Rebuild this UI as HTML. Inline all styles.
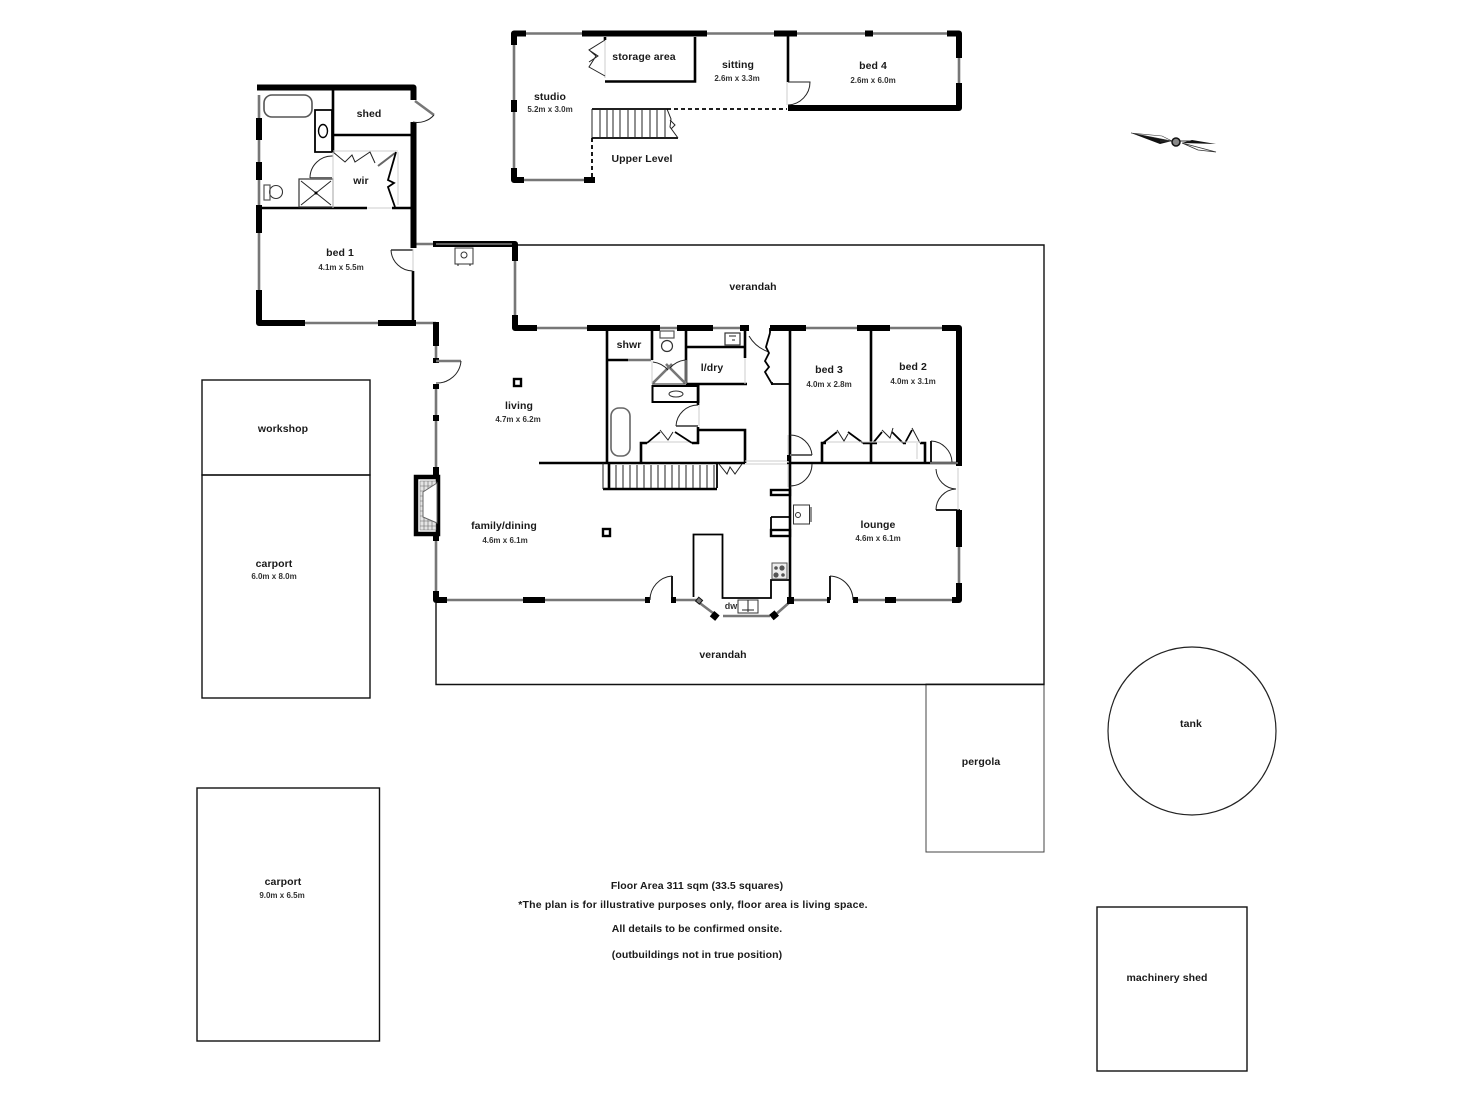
<!DOCTYPE html>
<html><head><meta charset="utf-8"><style>
html,body{margin:0;padding:0;background:#fff}
svg{display:block;filter:blur(.35px)}
text{font-family:"Liberation Sans",sans-serif;font-weight:bold;fill:#1a1a1a;text-anchor:middle}
.l{font-size:10.5px;letter-spacing:.08px}
.s{font-size:8px;fill:#333}
.n{font-size:10.5px;letter-spacing:.07px}
.w6{stroke:#000;stroke-width:6;fill:none;stroke-linejoin:round}
.w3{stroke:#000;stroke-width:2.6;fill:none}
.w2{stroke:#000;stroke-width:1.8;fill:none}
.g{stroke:#777;stroke-width:2.6;fill:none}
.t{stroke:#222;stroke-width:1;fill:none}
.o{stroke:#111;stroke-width:1.4;fill:none}
.lt{stroke:#ccc;stroke-width:1;fill:none}
.gp{stroke:#666;stroke-width:2;fill:none}
</style></head><body>
<svg width="1472" height="1104" viewBox="0 0 1472 1104" xmlns="http://www.w3.org/2000/svg">
<rect width="1472" height="1104" fill="#fff"/>

<!-- outbuildings -->
<rect class="o" x="202" y="380" width="168" height="95"/>
<rect class="o" x="202" y="475" width="168" height="223"/>
<rect class="o" x="197" y="788" width="182.500" height="253"/>
<rect class="o" x="1097" y="907" width="150" height="164"/>
<rect x="926" y="684" width="118" height="168" fill="none" stroke="#444" stroke-width="1"/>
<circle cx="1192" cy="731" r="84" fill="none" stroke="#222" stroke-width="1.2"/>
<path class="o" d="M515 245H1044V684.500H436V603"/>

<!-- compass -->
<polygon points="1131,133 1172,141 1160,144" fill="#111"/>
<polygon points="1131,133 1162,136 1172,141" fill="#fff" stroke="#333" stroke-width=".6"/>
<polygon points="1216,144 1182,143 1192,140" fill="#111"/>
<polygon points="1216,152 1182,143 1198,150" fill="#fff" stroke="#333" stroke-width=".8"/>
<path d="M1160 141H1190" stroke="#333" stroke-width="1"/>
<circle cx="1176" cy="142" r="4" fill="#888" stroke="#111" stroke-width="1.5"/>

<!-- UPPER LEVEL windows -->
<path class="g" d="M526 33.500H582M707 33.500H774M797 33.500H865M873 33.500H947M959 58V84M514 45V168M518 180H584"/>
<!-- upper walls -->
<path class="w6" d="M582 33.500H707M774 33.500H797M865 33.500H873M947 33.500H959V58M959 83V108H788M514 45V33.500H526M514 100V112M514 168V180H524M584 180H595"/>
<path class="w3" d="M788 36V82M695 37V81.500H605M605 37V40"/>
<path class="lt" d="M605 40V78M787 82V105"/>
<!-- upper door -->
<path class="t" d="M788 82H810A23 23 0 0 1 788 105"/>
<path class="t" d="M605 40L589 50L596 56L589 67L605 76M589 50L598 56L589 62"/>
<!-- upper stairs -->
<path class="w2" d="M592 109H667M592 138H678"/>
<path class="t" d="M592 109V138M600 109V138M607 109V138M613 109V138M620 109V138M628 109V138M635 109V138M642 109V138M650 109V138M657 109V138M665 109V138M667 109L671 119L670 127L678 138M670 120L675 125L671 129"/>
<path d="M592 138V178M667 109H787" stroke="#000" stroke-width="1.8" stroke-dasharray="4 3" fill="none"/>

<!-- BED 1 block -->
<path class="g" d="M259 95V118M259 140V162M259 180V205M259 233V290M305 323H378M416 323H436M416 244H433"/>
<path class="w6" d="M259 118V140M259 162V180M259 205V233M259 290V323H305M378 323H416M257 87.500H413.500V100M413.500 122V248M433 244H515V261M436 322V346"/>
<path d="M436 244H512" stroke="#bbb" stroke-width="1"/>
<path class="w3" d="M333 90V152M333 135H413M262 208H367M392 208H413M413 271V323"/>
<path class="w2" d="M315 110H332V152H315Z"/>
<ellipse cx="323" cy="131" rx="4.500" ry="6.500" fill="none" stroke="#000" stroke-width="1.4"/>
<rect x="264" y="95" width="48" height="22" rx="8" fill="none" stroke="#555" stroke-width="1.6"/>
<rect x="299" y="179" width="34" height="28" fill="none" stroke="#333" stroke-width="1.2"/>
<path class="t" d="M301 181L331 205M331 181L301 205"/>
<circle cx="316" cy="193" r="1.500" fill="#000"/>
<path class="gp" d="M310 178H332"/>
<path class="t" d="M310 178A22 22 0 0 1 333 156"/>
<circle cx="276" cy="192" r="6.500" fill="none" stroke="#333" stroke-width="1.1"/>
<rect x="264" y="185" width="6" height="15" fill="none" stroke="#555" stroke-width="1.2"/>
<!-- wir doors -->
<path class="t" d="M333 152L345 162L352 155L355 162L370 152L375 163"/>
<path class="gp" d="M378 166L395 153"/>
<path class="w2" d="M396 152L388 180L394 183L388 187L395 207"/>
<path class="lt" d="M367 208H392M398 152V205M333 151H398M333 152V208"/>
<!-- shed door -->
<path class="g" d="M415 101L434 115"/>
<path class="t" d="M434 115A22 22 0 0 1 413 122"/>
<!-- bed 1 door -->
<path class="gp" d="M391 250H413"/>
<path class="t" d="M391 250A22 22 0 0 0 413 271"/>
<path class="lt" d="M413 249V271"/>
<!-- water heater -->
<rect x="455" y="248" width="18" height="16" fill="none" stroke="#333" stroke-width="1"/>
<circle cx="464" cy="255" r="3" fill="none" stroke="#333"/>
<path class="t" d="M458 264V266M470 264V266"/>

<!-- MAIN: windows -->
<path class="g" d="M515 261V315M537 328H587M660 328H677M713 328H740M806 328H857M890 328H942M959 547V583M436 346V358M436 389V416M436 421V467M436 541V591M447 600H523M545 600H645M676 600H697M791 600H827M858 600H885M896 600H952"/>
<path class="g" d="M697 601L717 616M723 616H770M774 616L791 601"/>
<!-- main heavy walls -->
<path class="w6" d="M515 315V328H537M587 328H660M677 328H713M740 328H749M770 328H806M857 328H890M942 328H959V466M959 510V547M959 583V600H952M885 600H896M436 591V600H447M523 600H545M436 467V477M436 535V541"/>
<path class="w6" d="M436 358V363M436 384V389M436 415V421M645 600H650M671 600H676M827 600H830M853 600H858"/>
<!-- fireplace -->
<path d="M416 477H438V534H416Z" fill="#fff" stroke="#000" stroke-width="4.500"/>
<path d="M420 481H436V530H420Z" fill="#e4e4e4" stroke="#666" stroke-width=".5"/>
<path d="M420 486H436M420 491H436M420 496H436M420 501H436M420 506H436M420 511H436M420 516H436M420 521H436M420 526H436M424 481V530M428 481V530M432 481V530" stroke="#666" stroke-width=".6"/>
<path d="M437 483L423 492V517L437 523Z" fill="#fff" stroke="#666" stroke-width="1"/>
<!-- interior walls -->
<path class="w3" d="M607 328V463M607 360H628M652 328V360M686 328V383M686 347H745M745 328V358M686 384H747M698 386V405M698 427V444M698 430H745V463M692 443H699M641 463V443H647"/>
<rect x="652.500" y="386" width="46" height="16" fill="none" stroke="#000" stroke-width="2"/>
<path class="w3" d="M539 463H745M787 463H960"/>
<path class="w3" d="M790 328V602M871 328V463"/>
<path class="g" d="M628 360H651"/>
<path class="lt" d="M745 461H787M745 464H787M652 360V384M686 360V384M745 358V384M699 405V426M647 442H692"/>
<!-- shower room fixtures -->
<rect x="611" y="408" width="19" height="48" rx="8" fill="none" stroke="#666" stroke-width="1.6"/>
<circle cx="667" cy="346" r="5.500" fill="none" stroke="#333" stroke-width="1.2"/>
<rect x="660" y="331" width="14" height="7" fill="none" stroke="#555" stroke-width="1.2"/>
<rect x="725" y="333" width="15" height="12" fill="none" stroke="#333" stroke-width="1.2"/>
<path class="t" d="M729 336H736M732 340H735"/>
<ellipse cx="676" cy="394" rx="7" ry="3" fill="none" stroke="#333"/>
<!-- shwr / ldry swing doors -->
<path class="g" d="M653 383L672 364M685 383L666 364"/>
<path class="t" d="M653 362A24 24 0 0 1 668 370M685 360A24 24 0 0 0 670 368M652 384H686"/>
<!-- bath door -->
<path class="gp" d="M676 426H698"/>
<path class="t" d="M676 426A22 22 0 0 1 698 405"/>
<path class="w2" d="M647 443L660 432M675 432L692 443"/>
<path class="t" d="M660 430L668 440L673 432"/>
<!-- stairs -->
<path class="w3" d="M603 489H717M609 463V489"/>
<path class="t" d="M603 463V489M616 465V488M623 465V488M630 465V488M637 465V488M644 465V488M651 465V488M658 465V488M665 465V488M672 465V488M679 465V488M686 465V488M693 465V488M700 465V488M707 465V488M714 465V488"/>
<path class="w2" d="M717 464V488"/>
<path class="t" d="M719 464L727 474L730 467L735 474L742 464"/>
<!-- ldry / hall folding doors -->
<path class="t" d="M749 336A36 36 0 0 0 769 352"/>
<path class="w2" d="M770 333L766 347L769 353L765 361L769 367L765 372L772 384H790"/>
<path class="w2" d="M770 328V333M772 385V382"/>
<!-- bed 3 / bed 2 closets -->
<path class="w3" d="M822 463V443H826M925 463V443H920M863 443H877M903 443H906"/>
<path class="w2" d="M823 443L837 432M848 432L863 443M873 443L882 432M892 432L903 443M905 443L912 430"/>
<path class="t" d="M837 430L844 441L848 434M882 430L890 438L893 428M912 428L920 443"/>
<path class="lt" d="M826 442H921M917 459V443"/>
<!-- bed doors -->
<path class="gp" d="M790 455H812"/>
<path class="t" d="M790 435A22 22 0 0 1 812 455"/>
<path class="w2" d="M931 463V441"/>
<path class="t" d="M931 441A22 22 0 0 1 952 462"/>
<path class="lt" d="M930 463H958M788 435V463M788 465V487"/>
<path class="t" d="M812 464A22 22 0 0 1 790 486"/>
<path class="w6" d="M787 458H790"/>
<!-- lounge french door -->
<path class="t" d="M936 469A21 21 0 0 0 956 489A21 21 0 0 0 936 510"/>
<path class="w2" d="M936 510H960"/>
<path class="lt" d="M958 468V510"/>
<!-- kitchen stubs -->
<rect x="771" y="490" width="19" height="5" fill="none" stroke="#000" stroke-width="2.400"/>
<path class="w2" d="M771 517H790M771 517V530"/>
<rect x="771" y="530" width="19" height="6" fill="none" stroke="#000" stroke-width="2.400"/>
<rect x="793.500" y="505" width="16" height="19" fill="none" stroke="#333" stroke-width="1"/>
<circle cx="798" cy="515" r="2.500" fill="none" stroke="#333" stroke-width="1"/>
<path class="t" d="M811 507V522"/>
<!-- kitchen -->
<path class="w2" d="M693.500 597V534.500H722.500V598H771V580H789"/>
<rect x="772" y="563" width="15" height="16" fill="#eee" stroke="#555" stroke-width="1"/>
<g fill="#555"><circle cx="776" cy="568" r="1.800"/><circle cx="782" cy="568" r="2.600"/><circle cx="776" cy="575" r="2.600"/><circle cx="783" cy="575" r="1.800"/></g>
<rect x="738" y="600" width="20" height="13" fill="none" stroke="#333" stroke-width="1"/>
<path class="t" d="M748 600V612M742 610H754"/>
<g fill="#000"><rect x="711" y="612" width="7" height="7" transform="rotate(40 714 616)"/><rect x="771" y="612" width="7" height="7" transform="rotate(-40 774 616)"/><rect x="787" y="597" width="7" height="7"/></g>
<rect x="697" y="598" width="5" height="5" fill="#777" stroke="#111" transform="rotate(40 699 600)"/>
<!-- south doors -->
<path class="w2" d="M672 600V576"/>
<path class="t" d="M672 576A24 24 0 0 0 650 600"/>
<path class="w2" d="M830 600V576"/>
<path class="t" d="M830 576A24 24 0 0 1 853 600"/>
<!-- living door -->
<path class="g" d="M436 361H461"/>
<path class="t" d="M461 361A24 24 0 0 1 436 383"/>
<!-- posts -->
<rect x="514" y="379" width="7" height="7" fill="#fff" stroke="#000" stroke-width="2.400"/>
<rect x="603" y="529" width="7" height="7" fill="#fff" stroke="#000" stroke-width="2.400"/>

<!-- labels -->
<text class="l" x="550" y="100">studio</text><text class="s" x="550" y="112">5.2m x 3.0m</text>
<text class="l" x="644" y="60">storage area</text>
<text class="l" x="738" y="68">sitting</text><text class="s" x="737" y="81">2.6m x 3.3m</text>
<text class="l" x="873" y="69">bed 4</text><text class="s" x="873" y="83">2.6m x 6.0m</text>
<text class="l" x="642" y="162">Upper Level</text>
<text class="l" x="369" y="117">shed</text>
<text class="l" x="361" y="184">wir</text>
<text class="l" x="340" y="256">bed 1</text><text class="s" x="341" y="270">4.1m x 5.5m</text>
<text class="l" x="753" y="290">verandah</text>
<text class="l" x="629" y="348">shwr</text>
<text class="l" x="712" y="371">l/dry</text>
<text class="l" x="829" y="373">bed 3</text><text class="s" x="829" y="387">4.0m x 2.8m</text>
<text class="l" x="913" y="370">bed 2</text><text class="s" x="913" y="384">4.0m x 3.1m</text>
<text class="l" x="519" y="409">living</text><text class="s" x="518" y="422">4.7m x 6.2m</text>
<text class="l" x="504" y="529">family/dining</text><text class="s" x="505" y="543">4.6m x 6.1m</text>
<text class="l" x="878" y="528">lounge</text><text class="s" x="878" y="541">4.6m x 6.1m</text>
<text class="s" x="731" y="609" style="font-size:9px">dw</text>
<text class="l" x="283" y="432">workshop</text>
<text class="l" x="274" y="567">carport</text><text class="s" x="274" y="579">6.0m x 8.0m</text>
<text class="l" x="723" y="658">verandah</text>
<text class="l" x="981" y="765">pergola</text>
<text class="l" x="1191" y="727">tank</text>
<text class="l" x="283" y="885">carport</text><text class="s" x="282" y="898">9.0m x 6.5m</text>
<text class="l" x="1167" y="981">machinery shed</text>
<text class="n" x="697" y="889">Floor Area 311 sqm (33.5 squares)</text>
<text class="n" x="693" y="908" style="letter-spacing:.18px">*The plan is for illustrative purposes only, floor area is living space.</text>
<text class="n" x="697" y="932">All details to be confirmed onsite.</text>
<text class="n" x="697" y="958">(outbuildings not in true position)</text>
</svg>
</body></html>
